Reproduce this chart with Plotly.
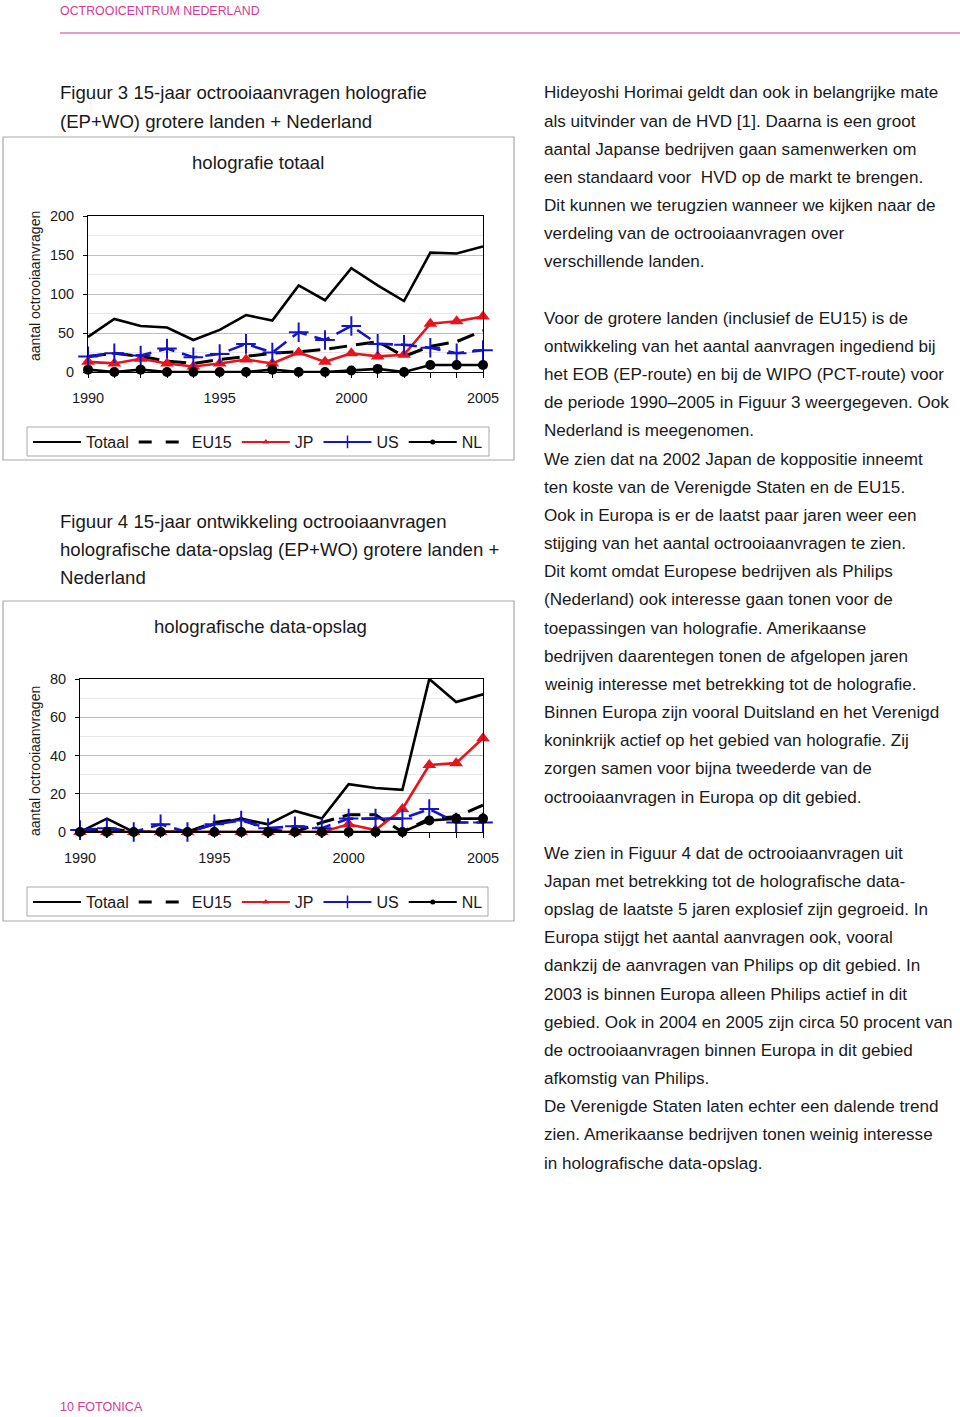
import plotly.graph_objects as go

# Data (EP+WO applications per year)
years = list(range(1990, 2006))

# Figuur 3 - holografie totaal
totaal_1 = [45, 68, 59, 57, 41, 54, 73, 66, 111, 92, 133, 111, 91, 153, 152, 161]
eu15_1 = [20, 24, 20, 14, 11, 16, 20, 24, 26, 29, 34, 39, 20, 33, 39, 53]
jp_1 = [13, 11, 17, 11, 7, 11, 16, 11, 25, 13, 24, 20, 22, 62, 65, 71]
us_1 = [20, 24, 21, 30, 19, 23, 36, 25, 51, 41, 59, 36, 35, 31, 24, 28]
nl_1 = [3, 0, 3, 0, 0, 0, 0, 3, 0, 0, 2, 4, 0, 9, 9, 9]

# Figuur 4 - holografische data-opslag
totaal_2 = [0, 7, 0, 0, 0, 4, 7, 4, 11, 7, 25, 23, 22, 80, 68, 72]
eu15_2 = [0, 2, 0, 0, 0, 5, 7, 1, 0, 5, 9, 9, 0, 7, 8, 14]
jp_2 = [0, 0, 0, 0, 0, 0, 0, 0, 0, 0, 4, 1, 12, 35, 36, 49]
us_2 = [1, 2, 0, 4, 0, 4, 6, 2, 3, 2, 7, 7, 7, 12, 5, 5]
nl_2 = [0, 0, 0, 0, 0, 0, 0, 0, 0, 0, 0, 0, 0, 6, 7, 7]

series_names = ["Totaal", "EU15", "JP", "US", "NL"]

header_text = "OCTROOICENTRUM NEDERLAND"
footer_text = "10 FOTONICA"
caption_3 = ["Figuur 3 15-jaar octrooiaanvragen holografie",
             "(EP+WO) grotere landen + Nederland"]
caption_4 = ["Figuur 4 15-jaar ontwikkeling octrooiaanvragen",
             "holografische data-opslag (EP+WO) grotere landen +",
             "Nederland"]
chart_titles = ["holografie totaal", "holografische data-opslag"]
y_title = "aantal octrooiaanvragen"

body_lines = [
    "Hideyoshi Horimai geldt dan ook in belangrijke mate",
    "als uitvinder van de HVD [1]. Daarna is een groot",
    "aantal Japanse bedrijven gaan samenwerken om",
    "een standaard voor  HVD op de markt te brengen.",
    "Dit kunnen we terugzien wanneer we kijken naar de",
    "verdeling van de octrooiaanvragen over",
    "verschillende landen.",
    "",
    "Voor de grotere landen (inclusief de EU15) is de",
    "ontwikkeling van het aantal aanvragen ingediend bij",
    "het EOB (EP-route) en bij de WIPO (PCT-route) voor",
    "de periode 1990\u20132005 in Figuur 3 weergegeven. Ook",
    "Nederland is meegenomen.",
    "We zien dat na 2002 Japan de koppositie inneemt",
    "ten koste van de Verenigde Staten en de EU15.",
    "Ook in Europa is er de laatst paar jaren weer een",
    "stijging van het aantal octrooiaanvragen te zien.",
    "Dit komt omdat Europese bedrijven als Philips",
    "(Nederland) ook interesse gaan tonen voor de",
    "toepassingen van holografie. Amerikaanse",
    "bedrijven daarentegen tonen de afgelopen jaren",
    "weinig interesse met betrekking tot de holografie.",
    "Binnen Europa zijn vooral Duitsland en het Verenigd",
    "koninkrijk actief op het gebied van holografie. Zij",
    "zorgen samen voor bijna tweederde van de",
    "octrooiaanvragen in Europa op dit gebied.",
    "",
    "We zien in Figuur 4 dat de octrooiaanvragen uit",
    "Japan met betrekking tot de holografische data-",
    "opslag de laatste 5 jaren explosief zijn gegroeid. In",
    "Europa stijgt het aantal aanvragen ook, vooral",
    "dankzij de aanvragen van Philips op dit gebied. In",
    "2003 is binnen Europa alleen Philips actief in dit",
    "gebied. Ook in 2004 en 2005 zijn circa 50 procent van",
    "de octrooiaanvragen binnen Europa in dit gebied",
    "afkomstig van Philips.",
    "De Verenigde Staten laten echter een dalende trend",
    "zien. Amerikaanse bedrijven tonen weinig interesse",
    "in holografische data-opslag.",
]

W, H = 960, 1417
FONT = "Liberation Sans, Arial, sans-serif"
MAGENTA = "#d63a92"
RED = "#e8141c"
BLUE = "#1414c8"
TXT = "#1a1a1a"
BOXGRAY = "#a8a8a8"


# page pixel -> paper fraction
def px(x):
    return x / W


def py(y):
    return 1 - y / H


# line / marker styles per series
styles = {
    "Totaal": dict(line=dict(color="black", width=2.6), mode="lines"),
    "EU15": dict(line=dict(color="black", width=3, dash="18px,9px"), mode="lines"),
    "JP": dict(line=dict(color=RED, width=2.6), mode="lines+markers",
               marker=dict(symbol="triangle-up", size=12, color=RED)),
    "US": dict(line=dict(color=BLUE, width=2.6, dash="16px,8px"), mode="lines+markers",
               marker=dict(symbol="cross-thin-open", size=14,
                           line=dict(color=BLUE, width=2))),
    "NL": dict(line=dict(color="black", width=2.6), mode="lines+markers",
               marker=dict(symbol="circle", size=10, color="black")),
}

legend_styles = {
    "Totaal": dict(line=dict(color="black", width=2), mode="lines"),
    "EU15": dict(line=dict(color="black", width=3, dash="13px,14px"), mode="lines"),
    "JP": dict(line=dict(color=RED, width=2), mode="lines+markers",
               marker=dict(symbol="triangle-up", size=6, color=RED)),
    "US": dict(line=dict(color=BLUE, width=2), mode="lines+markers",
               marker=dict(symbol="cross-thin-open", size=9,
                           line=dict(color=BLUE, width=1.5))),
    "NL": dict(line=dict(color="black", width=2), mode="lines+markers",
               marker=dict(symbol="circle", size=5, color="black")),
}

fig = go.Figure()

charts = [
    ("x", "y", "legend", [totaal_1, eu15_1, jp_1, us_1, nl_1]),
    ("x2", "y2", "legend2", [totaal_2, eu15_2, jp_2, us_2, nl_2]),
]

for xa, ya, leg, values in charts:
    for name, vals in zip(series_names, values):
        fig.add_trace(go.Scatter(x=years, y=vals, name=name, xaxis=xa, yaxis=ya,
                                 showlegend=False, cliponaxis=False, **styles[name]))
    # legend entries with the smaller Excel-style symbols
    for name in series_names:
        fig.add_trace(go.Scatter(x=[None], y=[None], name=name, xaxis=xa, yaxis=ya,
                                 legend=leg, showlegend=True, **legend_styles[name]))

axis_common = dict(
    showline=True, linecolor="black", linewidth=1, mirror=True, automargin=False,
    tickfont=dict(family=FONT, size=14.5, color=TXT), zeroline=False,
)
x_common = dict(range=[1990, 2005], dtick=5, tick0=1990, ticks="outside", ticklen=5,
                tickcolor="black", showgrid=False, ticklabelstandoff=8,
                minor=dict(dtick=1, ticks="outside", ticklen=5, tickcolor="black"),
                **axis_common)
y_common = dict(ticks="outside", ticklen=4, tickcolor="black", showgrid=True,
                gridcolor="#bdbdbd", gridwidth=1, ticklabelstandoff=6, **axis_common)

fig.update_layout(
    xaxis=dict(domain=[px(88), px(483)], anchor="y", **x_common),
    yaxis=dict(domain=[py(372), py(216)], range=[0, 200], dtick=50, anchor="x",
               minor=dict(dtick=25, showgrid=True, gridcolor="#e8e8e8"), **y_common),
    xaxis2=dict(domain=[px(80), px(483)], anchor="y2", **x_common),
    yaxis2=dict(domain=[py(832), py(679)], range=[0, 80], dtick=20, anchor="x2",
                minor=dict(dtick=10, showgrid=True, gridcolor="#e8e8e8"), **y_common),
)

legend_common = dict(orientation="h", xanchor="left", yanchor="middle",
                     bgcolor="rgba(0,0,0,0)", borderwidth=0, itemwidth=48,
                     font=dict(family=FONT, size=16, color=TXT),
                     itemclick=False, itemdoubleclick=False)
fig.update_layout(
    legend=dict(x=px(28), y=py(442), **legend_common),
    legend2=dict(x=px(28), y=py(902), **legend_common),
)

shapes = [
    # header rule
    dict(type="line", xref="paper", yref="paper", x0=px(60), x1=px(960),
         y0=py(33), y1=py(33), line=dict(color=MAGENTA, width=1.2)),
    # chart frames
    dict(type="rect", xref="paper", yref="paper", x0=px(3), x1=px(514),
         y0=py(460), y1=py(137), line=dict(color=BOXGRAY, width=1.2)),
    dict(type="rect", xref="paper", yref="paper", x0=px(3), x1=px(514),
         y0=py(921), y1=py(601), line=dict(color=BOXGRAY, width=1.2)),
    # legend frames
    dict(type="rect", xref="paper", yref="paper", x0=px(27), x1=px(489),
         y0=py(456), y1=py(427), line=dict(color=BOXGRAY, width=1)),
    dict(type="rect", xref="paper", yref="paper", x0=px(27), x1=px(488),
         y0=py(916), y1=py(887), line=dict(color=BOXGRAY, width=1)),
]

annotations = []


def add_text(text, x, y, size, color=TXT, xanchor="left", angle=0):
    annotations.append(dict(text=text, x=px(x), y=py(y), xref="paper", yref="paper",
                            xanchor=xanchor, yanchor="middle", showarrow=False,
                            textangle=angle,
                            font=dict(family=FONT, size=size, color=color)))


add_text(header_text, 58, 11, 12.4, MAGENTA)
add_text(footer_text, 58, 1407, 12.6, MAGENTA)

for i, line in enumerate(caption_3):
    add_text(line, 58, 93 + 28.2 * i, 18.6)
for i, line in enumerate(caption_4):
    add_text(line, 58, 521 + 28.2 * i, 18.6)

add_text(chart_titles[0], 258, 162, 18.6, xanchor="center")
add_text(chart_titles[1], 260, 626, 18.6, xanchor="center")
add_text(y_title, 35, 286, 14, xanchor="center", angle=-90)
add_text(y_title, 35, 761, 14, xanchor="center", angle=-90)

for i, line in enumerate(body_lines):
    if line:
        add_text(line, 542, 93 + 28.16 * i, 17.1)

fig.update_layout(
    width=W, height=H, margin=dict(l=0, r=0, t=0, b=0, autoexpand=False),
    paper_bgcolor="white", plot_bgcolor="white",
    shapes=shapes, annotations=annotations,
    font=dict(family=FONT, color=TXT),
)

# drop the browser's default 8px body margin so the page matches the figure
fig.write_html("out.html", config={"displayModeBar": False},
               post_script="document.body.style.margin = '0';")
